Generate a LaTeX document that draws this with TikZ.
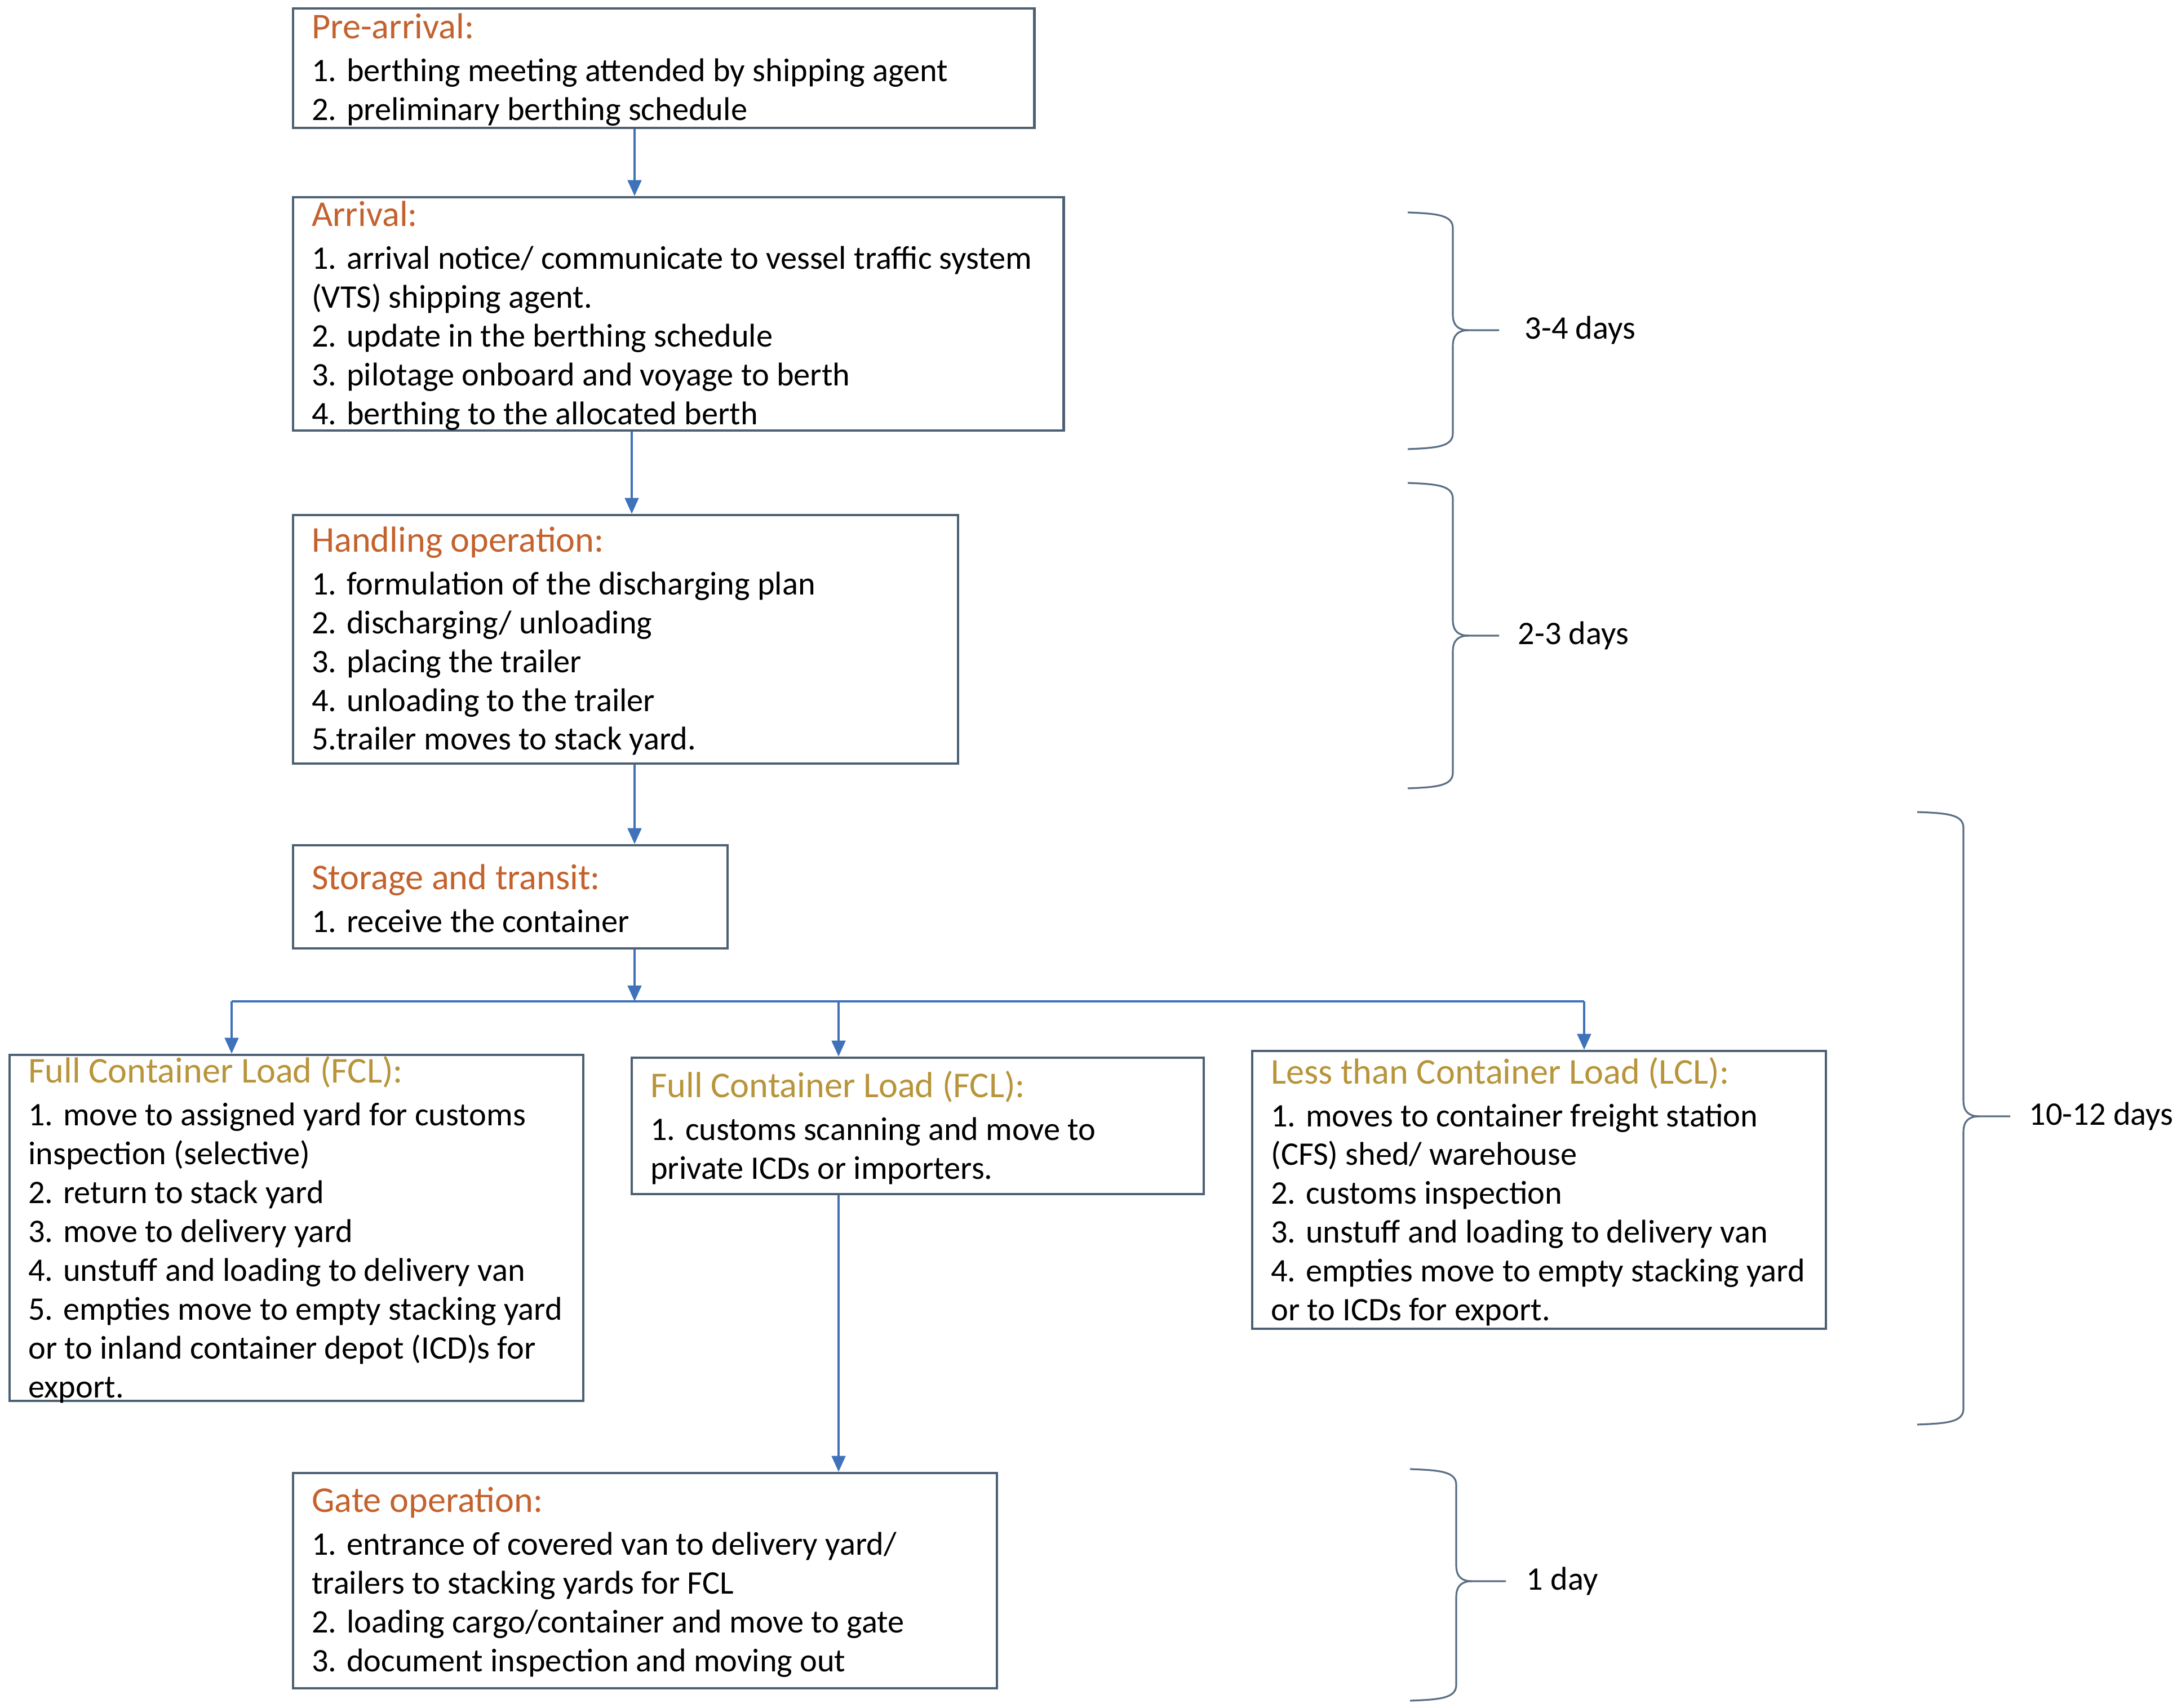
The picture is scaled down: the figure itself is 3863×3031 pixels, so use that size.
\documentclass[tikz,border=0pt]{standalone}
\usepackage{fontspec}
\setmainfont{Carlito}
\usetikzlibrary{arrows.meta}
\definecolor{ttlorange}{HTML}{C4622D}
\definecolor{ttlgold}{HTML}{B8943A}
\definecolor{boxline}{HTML}{4D6072}
\definecolor{arrblue}{HTML}{3F72BA}
\definecolor{bracecol}{HTML}{5B6E84}
\newcommand\ttlo[1]{{\fontsize{18.3}{21.6}\selectfont\color{ttlorange}#1}}
\newcommand\ttlg[1]{{\fontsize{18.3}{21.6}\selectfont\color{ttlgold}#1}}
\newcommand\daybrace[6]{%
 \draw[brc] (#1,#4) .. controls (#2-30,#4+2) and (#2,#4+4) .. (#2,#4+28) -- (#2,#5-28) .. controls (#2,#5-8) and (#2+10,#5) .. (#2+28,#5) -- (#3,#5);
 \draw[brc] (#1,#6) .. controls (#2-30,#6-2) and (#2,#6-4) .. (#2,#6-28) -- (#2,#5+28) .. controls (#2,#5+8) and (#2+10,#5) .. (#2+28,#5);
}
\tikzset{
 box/.style={draw=boxline, line width=1.2pt, fill=white, inner sep=0pt, rectangle},
 txt/.style={anchor=west, align=left, inner sep=0pt, font=\fontsize{16.6}{19.6}\selectfont, text=black},
 arr/.style={draw=arrblue, line width=0.9pt, -{Triangle[width=7pt,length=8pt]}},
 lin/.style={draw=arrblue, line width=0.9pt},
 brc/.style={draw=bracecol, line width=0.9pt},
 days/.style={anchor=west, inner sep=0pt, font=\fontsize{16.6}{19.6}\selectfont}
}
\begin{document}
\begin{tikzpicture}[x=0.01cm,y=-0.01cm]
\useasboundingbox (0,0) rectangle (3863,3031);
% boxes
\node[box, minimum width=13.15cm, minimum height=2.12cm] (pre) at (1177.5,121) {};
\node[box, minimum width=13.67cm, minimum height=4.14cm] (arr) at (1203.5,557) {};
\node[box, minimum width=11.80cm, minimum height=4.41cm] (hand) at (1110,1134.5) {};
\node[box, minimum width=7.71cm, minimum height=1.83cm] (stor) at (905.5,1591.5) {};
\node[box, minimum width=10.18cm, minimum height=6.14cm] (fcla) at (526,2179) {};
\node[box, minimum width=10.15cm, minimum height=2.42cm] (fclb) at (1628.5,1998) {};
\node[box, minimum width=10.18cm, minimum height=4.93cm] (lcl) at (2731,2111.5) {};
\node[box, minimum width=12.49cm, minimum height=3.82cm] (gate) at (1144.5,2805) {};
% texts
\node[txt] (preT) at ([xshift=0.35cm,yshift=-0.03cm]pre.west) {\ttlo{Pre-arrival:}\\[2pt]
1. berthing meeting attended by shipping agent\\
2. preliminary berthing schedule};
\node[txt] (arrT) at ([xshift=0.35cm,yshift=-0.03cm]arr.west) {\ttlo{Arrival:}\\[2pt]
1. arrival notice/ communicate to vessel traffic system\\
(VTS) shipping agent.\\
2. update in the berthing schedule\\
3. pilotage onboard and voyage to berth\\
4. berthing to the allocated berth};
\node[txt] (handT) at ([xshift=0.35cm,yshift=-0.03cm]hand.west) {\ttlo{Handling operation:}\\[2pt]
1. formulation of the discharging plan\\
2. discharging/ unloading\\
3. placing the trailer\\
4. unloading to the trailer\\
5.trailer moves to stack yard.};
\node[txt] (storT) at ([xshift=0.35cm,yshift=-0.03cm]stor.west) {\ttlo{Storage and transit:}\\[2pt]
1. receive the container};
\node[txt] (fclaT) at ([xshift=0.35cm,yshift=-0.03cm]fcla.west) {\ttlg{Full Container Load (FCL):}\\[2pt]
1. move to assigned yard for customs\\
inspection (selective)\\
2. return to stack yard\\
3. move to delivery yard\\
4. unstuff and loading to delivery van\\
5. empties move to empty stacking yard\\
or to inland container depot (ICD)s for\\
export.};
\node[txt] (fclbT) at ([xshift=0.35cm,yshift=-0.03cm]fclb.west) {\ttlg{Full Container Load (FCL):}\\[2pt]
1. customs scanning and move to\\
private ICDs or importers.};
\node[txt] (lclT) at ([xshift=0.35cm,yshift=-0.03cm]lcl.west) {\ttlg{Less than Container Load (LCL):}\\[2pt]
1. moves to container freight station\\
(CFS) shed/ warehouse\\
2. customs inspection\\
3. unstuff and loading to delivery van\\
4. empties move to empty stacking yard\\
or to ICDs for export.};
\node[txt] (gateT) at ([xshift=0.35cm,yshift=-0.03cm]gate.west) {\ttlo{Gate operation:}\\[2pt]
1. entrance of covered van to delivery yard/\\
trailers to stacking yards for FCL\\
2. loading cargo/container and move to gate\\
3. document inspection and moving out};
% connector guide coordinates
\coordinate (xa) at (1126,0);
\coordinate (xb) at (1121,0);
\coordinate (xl) at (411,0);
\coordinate (xm) at (1488,0);
\coordinate (xr) at (2811,0);
\coordinate (jc) at (1126,1777);
\coordinate (jl) at (411,1777);
\coordinate (jm) at (1488,1777);
\coordinate (jr) at (2811,1777);
% connectors
\draw[arr] (pre.south -| xa) -- (arr.north -| xa);
\draw[arr] (arr.south -| xb) -- (hand.north -| xb);
\draw[arr] (hand.south -| xa) -- (stor.north -| xa);
\draw[arr] (stor.south -| xa) -- (jc);
\draw[lin] (jl) -- (jr);
\draw[arr] (jl) -- (fcla.north -| xl);
\draw[arr] (jm) -- (fclb.north -| xm);
\draw[arr] (jr) -- (lcl.north -| xr);
\draw[arr] (fclb.south -| xm) -- (gate.north -| xm);
% braces
\daybrace{2498}{2578}{2660}{377}{586}{797}
\node[days] (d1) at (2705,586) {3-4 days};
\daybrace{2498}{2578}{2660}{857}{1128}{1399}
\node[days] (d2) at (2693,1128) {2-3 days};
\daybrace{3402}{3484}{3567}{1441}{1981}{2528}
\node[days] (d3) at (3600,1981) {10-12 days};
\daybrace{2502}{2584}{2672}{2607}{2806}{3018}
\node[days] (d4) at (2708,2806) {1 day};
\end{tikzpicture}
\end{document}
